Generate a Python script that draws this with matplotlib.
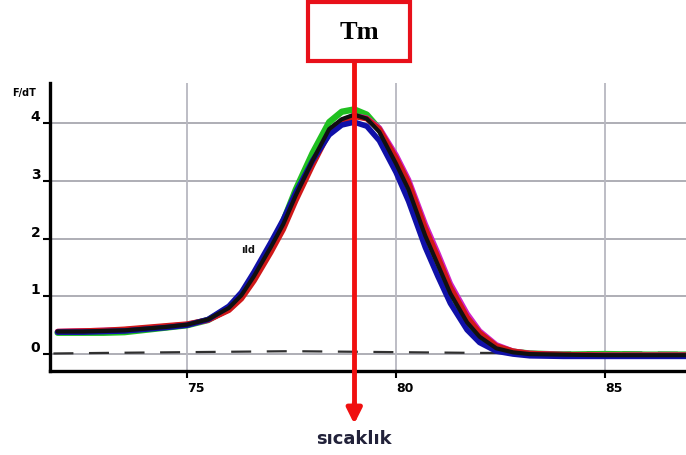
import matplotlib
matplotlib.use("Agg")
import matplotlib.pyplot as plt
from matplotlib.patches import Rectangle

# ── Datos ─────────────────────────────────────────────────────────────────
temps = [71.9, 72.5, 73.0, 73.5, 74.0, 74.5, 75.0, 75.5, 76.0, 76.3, 76.6,
         77.0, 77.3, 77.6, 78.0, 78.4, 78.7, 79.0, 79.3, 79.6, 80.0, 80.3,
         80.7, 81.0, 81.3, 81.7, 82.0, 82.4, 82.8, 83.2, 84.0, 85.0, 86.0, 87.0]

black = [0.39, 0.39, 0.40, 0.41, 0.44, 0.47, 0.51, 0.60, 0.80, 1.02, 1.35,
         1.85, 2.25, 2.75, 3.35, 3.90, 4.07, 4.15, 4.08, 3.85, 3.30, 2.85,
         2.05, 1.55, 1.05, 0.55, 0.30, 0.10, 0.03, 0.00, -0.01, -0.02, -0.02, -0.02]
blue = [0.38, 0.38, 0.39, 0.40, 0.43, 0.46, 0.50, 0.60, 0.83, 1.07, 1.42,
        1.93, 2.33, 2.80, 3.35, 3.80, 3.97, 4.02, 3.95, 3.70, 3.15, 2.65,
        1.85, 1.35, 0.88, 0.42, 0.20, 0.05, 0.00, -0.03, -0.04, -0.04, -0.04, -0.04]
green = [0.37, 0.37, 0.37, 0.38, 0.42, 0.46, 0.50, 0.59, 0.79, 1.01, 1.35,
         1.86, 2.30, 2.85, 3.48, 4.02, 4.20, 4.24, 4.15, 3.90, 3.33, 2.90,
         2.10, 1.60, 1.08, 0.57, 0.31, 0.11, 0.04, 0.01, -0.01, 0.00, -0.01, -0.01]
red = [0.39, 0.40, 0.41, 0.43, 0.46, 0.49, 0.52, 0.59, 0.76, 0.96, 1.27,
       1.76, 2.16, 2.66, 3.27, 3.84, 4.03, 4.12, 4.08, 3.90, 3.40, 2.97,
       2.18, 1.68, 1.16, 0.64, 0.37, 0.14, 0.05, 0.01, -0.01, -0.02, -0.02, -0.02]
magenta = [0.39, 0.40, 0.41, 0.42, 0.45, 0.48, 0.51, 0.59, 0.77, 0.98, 1.30,
           1.80, 2.20, 2.70, 3.30, 3.86, 4.05, 4.13, 4.09, 3.92, 3.45, 3.02,
           2.25, 1.75, 1.22, 0.70, 0.40, 0.16, 0.05, 0.01, -0.01, -0.02, -0.02, -0.02]

# (color, valores, grosor) en orden de dibujo
series = [("#20c020", green, 4.6), ("#d020c8", magenta, 4.0),
          ("#d01818", red, 4.0), ("#1010a8", blue, 4.0),
          ("#101010", black, 3.0)]

# línea de control (sin molde) cerca de cero
ntc_temps = [71.8, 73.0, 74.5, 76.0, 77.5, 79.0, 80.5, 82.0, 83.5, 85.0, 87.0]
ntc_vals = [0.01, 0.02, 0.03, 0.04, 0.05, 0.04, 0.03, 0.02, 0.02, 0.03, 0.02]

x_ticks = [75, 80, 85]
y_ticks = [0, 1, 2, 3, 4]
tm_temp = 79.0

# ── Figura ────────────────────────────────────────────────────────────────
fig = plt.figure(figsize=(6.86, 4.56), dpi=100)
ax = fig.add_axes([0.073, 0.184, 0.927, 0.632])
ax.set_xlim(71.72, 86.94)
ax.set_ylim(-0.295, 4.70)

for yv in y_ticks:
    ax.axhline(yv, color="#a8a8b0", lw=1.3, zorder=1)
for xv in x_ticks:
    ax.axvline(xv, color="#b8b8c0", lw=1.3, zorder=1)

ax.plot(ntc_temps, ntc_vals, color="#303030", lw=1.6, ls=(0, (9, 7)), zorder=2)

for color, vals, lw in series:
    ax.plot(temps, vals, color=color, lw=lw, solid_capstyle="round",
            solid_joinstyle="round", zorder=3)

ax.text(76.45, 1.82, "ıld", fontsize=7, fontweight="bold", ha="center",
        va="center", color="#111111", zorder=4)

for side in ["top", "right"]:
    ax.spines[side].set_visible(False)
ax.spines["left"].set_linewidth(2.4)
ax.spines["bottom"].set_linewidth(2.4)

ax.set_xticks(x_ticks)
ax.set_yticks(y_ticks)
ax.set_xticklabels([str(t) for t in x_ticks], fontsize=9, fontweight="bold")
ax.set_yticklabels([str(t) for t in y_ticks], fontsize=10, fontweight="bold")
for lab in ax.get_xticklabels():
    lab.set_ha("left")
for lab in ax.get_yticklabels():
    lab.set_va("bottom")
ax.tick_params(axis="both", length=5, width=1.5, direction="out")
ax.tick_params(axis="y", pad=2)
ax.tick_params(axis="x", pad=2)

fig.text(0.017, 0.797, "F/dT", fontsize=7, fontweight="bold", ha="left",
         va="center")

# ── Anotación Tm ──────────────────────────────────────────────────────────
box = Rectangle((0.449, 0.864), 0.149, 0.129, transform=fig.transFigure,
                fill=True, facecolor="white", edgecolor="#e8101a", lw=3,
                zorder=10)
fig.patches.append(box)
fig.text(0.524, 0.928, "Tm", fontsize=19, fontweight="bold",
         family="Liberation Serif", ha="center", va="center", zorder=11)

x_fig = fig.transFigure.inverted().transform(ax.transData.transform((tm_temp, 0)))[0]
fig.add_artist(plt.Line2D([x_fig, x_fig], [0.864, 0.11], color="#f01010",
                          lw=3.5, transform=fig.transFigure, zorder=10))
ax.annotate("", xy=(x_fig, 0.062), xycoords="figure fraction",
            xytext=(x_fig, 0.12), textcoords="figure fraction",
            arrowprops=dict(arrowstyle="-|>,head_width=0.45,head_length=0.9",
                            color="#f01010", lw=3.5), zorder=10,
            annotation_clip=False)

fig.text(0.516, 0.037, "sıcaklık", fontsize=13, fontweight="bold",
         color="#22223a", ha="center", va="center")

fig.savefig("out.png", dpi=100)
